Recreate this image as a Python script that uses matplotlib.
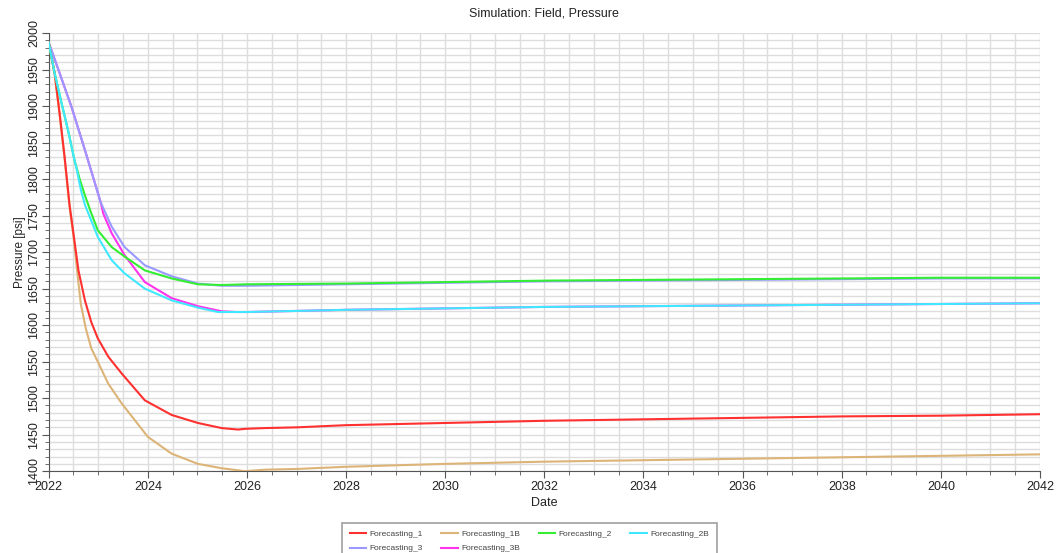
import matplotlib.pyplot as plt
from matplotlib.ticker import MultipleLocator

plt.rcParams['font.family'] = ['Liberation Sans', 'DejaVu Sans']

# years / pressure (psi)
t1 = [2022.0, 2022.12, 2022.22, 2022.32, 2022.42, 2022.5, 2022.6, 2022.73, 2022.86, 2022.99, 2023.2, 2023.47,
      2023.94, 2024.48, 2025.01, 2025.49, 2025.82, 2025.96, 2026.36, 2027.0, 2028.0, 2030.0, 2032.0,
      2034.0, 2036.0, 2038.0, 2040.0, 2042.0]
p1 = [1987, 1945, 1890, 1831, 1765, 1725, 1675, 1634, 1604, 1582, 1557, 1534,
      1497, 1477, 1466, 1459, 1457, 1458, 1459, 1460, 1463, 1466, 1469,
      1471, 1473, 1475, 1476, 1478]

t1b = [2022.0, 2022.12, 2022.22, 2022.32, 2022.42, 2022.5, 2022.58, 2022.65, 2022.75, 2022.86, 2022.99, 2023.2,
       2023.47, 2024.0, 2024.48, 2025.01, 2025.49, 2025.96, 2026.36, 2027.0, 2028.0, 2030.0, 2032.0,
       2034.0, 2036.0, 2038.0, 2040.0, 2042.0]
p1b = [1987, 1944, 1888, 1828, 1762, 1722, 1670, 1628, 1595, 1568, 1550, 1520,
       1493, 1447, 1424, 1410, 1404, 1400, 1402, 1403, 1406, 1410, 1413,
       1415, 1417, 1419, 1421, 1423]

t2 = [2022.0, 2022.12, 2022.26, 2022.39, 2022.52, 2022.63, 2022.73, 2022.85, 2022.99, 2023.27, 2023.53,
      2023.94, 2024.48, 2025.01, 2025.49, 2026.0, 2028.0, 2030.0, 2032.0, 2034.0, 2036.0, 2038.0,
      2040.0, 2042.0]
p2 = [1987, 1945, 1904, 1867, 1826, 1799, 1778, 1755, 1730, 1707, 1694,
      1675, 1664, 1656, 1655, 1656, 1657, 1659, 1661, 1662, 1663, 1664,
      1665, 1665]

t2b = [2022.0, 2022.12, 2022.26, 2022.39, 2022.52, 2022.56, 2022.65, 2022.73, 2022.83, 2022.99, 2023.27,
       2023.53, 2023.94, 2024.48, 2025.01, 2025.42, 2026.0, 2028.0, 2030.0, 2032.0, 2034.0, 2036.0,
       2038.0, 2040.0, 2042.0]
p2b = [1987, 1945, 1904, 1867, 1826, 1815, 1785, 1765, 1748, 1721, 1689,
       1671, 1650, 1634, 1624, 1618, 1618, 1621, 1623, 1625, 1626, 1627,
       1628, 1629, 1630]

t3 = [2022.0, 2022.19, 2022.46, 2022.73, 2022.93, 2023.05, 2023.27, 2023.53, 2023.94, 2024.48, 2025.01,
      2025.49, 2026.0, 2028.0, 2030.0, 2032.0, 2034.0, 2036.0, 2038.0, 2040.0, 2042.0]
p3 = [1987, 1951, 1899, 1840, 1795, 1768, 1735, 1707, 1682, 1667, 1657,
      1654, 1654, 1656, 1658, 1660, 1661, 1662, 1663, 1664, 1664]

t3b = [2022.0, 2022.19, 2022.46, 2022.73, 2022.93, 2023.05, 2023.1, 2023.27, 2023.53, 2023.94, 2024.48,
       2025.01, 2025.49, 2025.8, 2026.0, 2028.0, 2030.0, 2032.0, 2034.0, 2036.0, 2038.0, 2040.0, 2042.0]
p3b = [1987, 1951, 1899, 1840, 1795, 1768, 1753, 1726, 1696, 1659, 1637,
       1626, 1619, 1618, 1618, 1621, 1623, 1625, 1626, 1627, 1628, 1629, 1630]

fig = plt.figure(figsize=(10.59, 5.53), dpi=100)
ax = fig.add_axes([0.046, 0.148, 0.936, 0.792])

l1, = ax.plot(t1, p1, color='#ff3030', lw=1.5, label='Forecasting_1', zorder=4)
l1b, = ax.plot(t1b, p1b, color='#dcb478', lw=1.5, label='Forecasting_1B', zorder=3)
l2, = ax.plot(t2, p2, color='#33ee33', lw=1.5, label='Forecasting_2', zorder=4)
l2b, = ax.plot(t2b, p2b, color='#40e8ff', lw=1.5, label='Forecasting_2B', zorder=4)
l3, = ax.plot(t3, p3, color='#9999ff', lw=1.5, label='Forecasting_3', zorder=3)
l3b, = ax.plot(t3b, p3b, color='#ff33ee', lw=1.5, label='Forecasting_3B', zorder=2.5)

ax.set_xlim(2022, 2042)
ax.set_ylim(1400, 2000)
ax.xaxis.set_major_locator(MultipleLocator(2))
ax.xaxis.set_minor_locator(MultipleLocator(0.5))
ax.yaxis.set_major_locator(MultipleLocator(50))
ax.yaxis.set_minor_locator(MultipleLocator(10))
ax.grid(which='both', color='#dddddd', lw=1)
ax.set_axisbelow(True)

for s in ['top', 'right']:
    ax.spines[s].set_visible(False)
for s in ['left', 'bottom']:
    ax.spines[s].set_color('#555555')

ax.tick_params(which='major', length=5, color='#555555', labelsize=9, labelcolor='#222222')
ax.tick_params(axis='x', which='major', pad=2)
ax.tick_params(axis='y', which='major', pad=1)
ax.tick_params(which='minor', length=3, color='#555555')
plt.setp(ax.get_yticklabels(), rotation=90, va='center')

ax.set_title('Simulation: Field, Pressure', fontsize=9, pad=12, color='#222222')
ax.set_xlabel('Date', fontsize=9, labelpad=3, color='#222222')
ax.set_ylabel('Pressure [psi]', fontsize=8.5, labelpad=2, color='#222222')

# legend is filled column by column, so order it to read row by row
order = [l1, l3, l1b, l3b, l2, l2b]
leg = fig.legend(order, [h.get_label() for h in order], loc='upper center',
                 bbox_to_anchor=(0.5, 0.055), ncol=4, fontsize=6,
                 frameon=True, fancybox=False, edgecolor='#888888', handlelength=2.0,
                 handletextpad=0.4, columnspacing=2.2, borderpad=0.9, labelspacing=0.8,
                 borderaxespad=0)
leg.get_frame().set_linewidth(1.2)
for txt in leg.get_texts():
    txt.set_color('#444444')

fig.savefig('out.png', dpi=100)
